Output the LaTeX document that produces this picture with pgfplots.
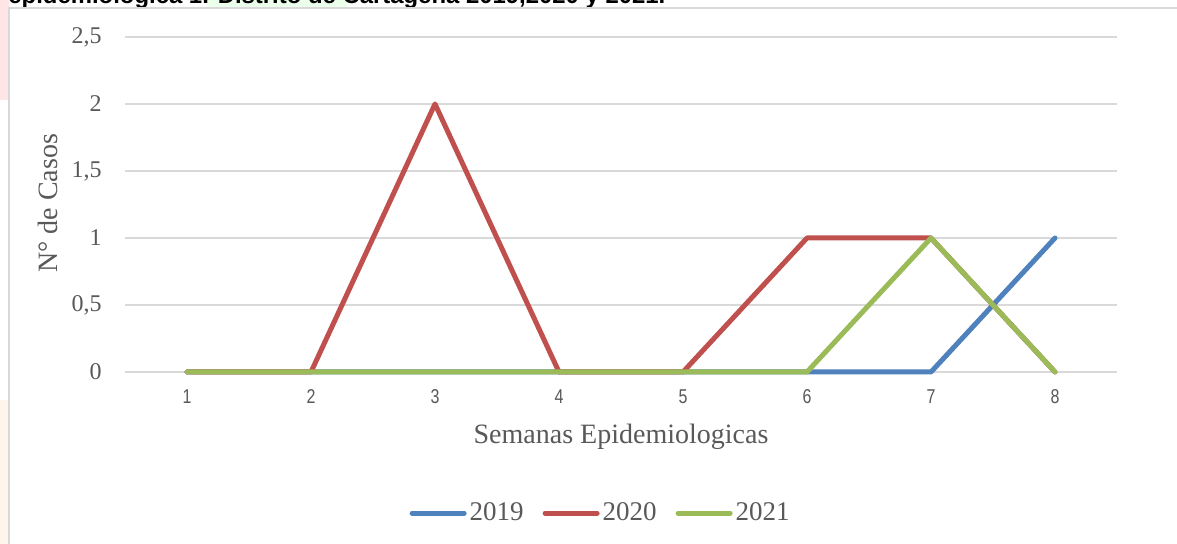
\documentclass[border=0pt]{standalone}
\usepackage{fontspec}
\setmainfont{Liberation Serif}
\newfontfamily\narrowsans[FakeStretch=0.8]{Liberation Sans}
\newfontfamily\boldsans{Liberation Sans}
\usepackage{pgfplots}
\pgfplotsset{compat=1.18}
\definecolor{c2019}{HTML}{4F81BD}
\definecolor{c2020}{HTML}{C0504D}
\definecolor{c2021}{HTML}{9BBB59}
\definecolor{gridc}{HTML}{D9D9D9}
\definecolor{txt}{HTML}{595959}
\begin{document}
\begin{tikzpicture}
% background strips outside chart frame
\fill[white] (-62.5pt,-86pt) rectangle (526pt,186pt);
\fill[red!10] (-62.5pt,136pt) rectangle (-58pt,186pt);
\fill[orange!8] (-62.5pt,-86pt) rectangle (-58pt,-14pt);
\fill[green!8] (41pt,182pt) rectangle (111pt,186pt);
\begin{scope}
\clip (-62.5pt,-86pt) rectangle (526pt,186pt);
\node[anchor=base west, inner sep=0pt] at (-58.5pt,184pt) {\resizebox{328.5pt}{!}{\boldsans\bfseries epidemiologica 1. Distrito de Cartagena 2019,2020 y 2021.}};
\end{scope}
\draw[gridc, line width=0.75pt] (-58pt,-86pt) -- (-58pt,182pt) -- (526pt,182pt);
\begin{axis}[
  at={(0pt,0pt)}, anchor=origin,
  scale only axis, width=496pt, height=167.5pt,
  xmin=0.5, xmax=8.5, ymin=0, ymax=2.5,
  axis line style={draw=none},
  major tick length=0pt,
  ymajorgrids, grid style={gridc, line width=0.75pt},
  ytick={0,0.5,1,1.5,2,2.5},
  yticklabels={0,{0,5},1,{1,5},2,{2,5}},
  xtick={1,2,3,4,5,6,7,8},
  xticklabels={1,2,3,4,5,6,7,8},
  yticklabel style={font=\fontsize{12pt}{14pt}\selectfont, text=txt, anchor=east, inner sep=0pt, xshift=-11.5pt},
  xticklabel style={font=\narrowsans\fontsize{10pt}{12pt}\selectfont, text=txt, anchor=center, inner sep=0pt, yshift=-12.5pt},
  ylabel={N° de Casos},
  xlabel={Semanas Epidemiologicas},
  every axis y label/.style={at={(axis description cs:0,0.504)}, xshift=-38.5pt, rotate=90, anchor=center, font=\fontsize{14pt}{16pt}\selectfont, text=txt},
  every axis x label/.style={at={(axis description cs:0.5,0)}, anchor=center, yshift=-32.5pt, font=\fontsize{14pt}{16pt}\selectfont, text=txt},
  legend columns=3,
  legend style={at={(0.48,-0.421)}, anchor=center, draw=none, fill=none,
    font=\fontsize{13.5pt}{15pt}\selectfont, text=txt, inner sep=0pt,
    nodes={inner sep=1.5pt},
    /tikz/every even column/.append style={column sep=8pt}},
  legend image code/.code={\draw[#1, line width=2.5pt, line cap=round] (0pt,0pt) -- (26pt,0pt);},
  every axis plot/.append style={line width=2.5pt, line cap=round, line join=round, mark=none},
  clip=false,
]
\addplot[c2019] coordinates {(1,0) (2,0) (3,0) (4,0) (5,0) (6,0) (7,0) (8,1)};
\addlegendentry{2019}
\addplot[c2020] coordinates {(1,0) (2,0) (3,2) (4,0) (5,0) (6,1) (7,1) (8,0)};
\addlegendentry{2020}
\addplot[c2021] coordinates {(1,0) (2,0) (3,0) (4,0) (5,0) (6,0) (7,1) (8,0)};
\addlegendentry{2021}
\end{axis}
\pgfresetboundingbox
\useasboundingbox (-62.5pt,-86pt) rectangle (526pt,186pt);
\end{tikzpicture}
\end{document}
